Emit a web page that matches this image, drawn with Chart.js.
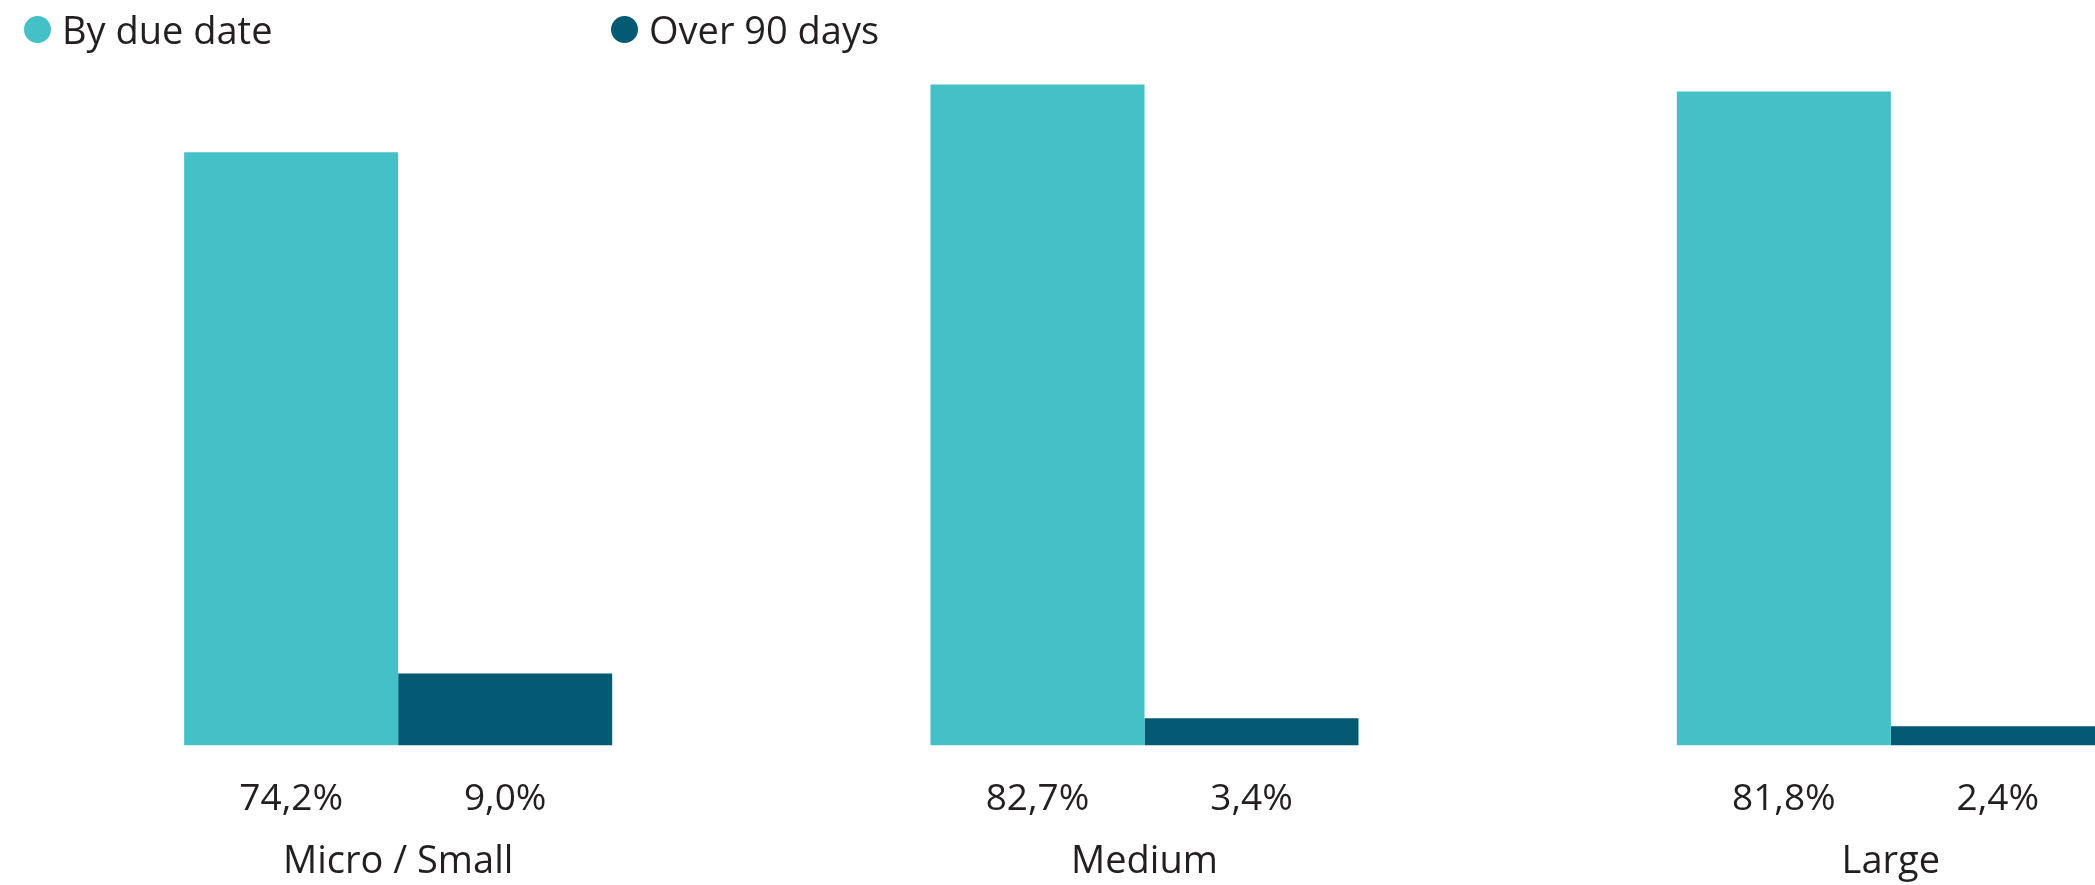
<!DOCTYPE html>
<html>
<head>
<meta charset="utf-8">
<script src="https://cdn.jsdelivr.net/npm/chart.js@4.4.1/dist/chart.umd.min.js"></script>
<style>
  html, body { margin: 0; padding: 0; background: #fff; overflow: hidden; }
  #wrap { position: relative; width: 2095px; height: 885px; overflow: hidden; }
  #chart { position: absolute; left: 0; top: 0; }
  .legend-item { position: absolute; top: 1px; height: 56px; display: flex; align-items: center;
    font-family: "Open Sans", sans-serif; font-size: 38px; color: #231f20; white-space: nowrap; }
  .legend-dot { width: 27px; height: 27px; border-radius: 50%; margin-right: 11px; }
</style>
</head>
<body>
<div id="wrap">
  <canvas id="chart" width="2270" height="979"></canvas>
</div>
<script>
var categories = ['Micro / Small', 'Medium', 'Large'];
var seriesNames = ['By due date', 'Over 90 days'];
var byDueDate = [74.2, 82.7, 81.8];
var over90Days = [9.0, 3.4, 2.4];
var seriesColors = ['#44c1c7', '#035a72'];
var legendLeft = [24, 611];

var TEXT_COLOR = '#231f20';
var FONT = '"Open Sans", sans-serif';

function fmtPct(v) {
    return v.toFixed(1).replace('.', ',') + '%';
}

// value labels under each bar, centred on the bar
var valueLabels = {
    id: 'valueLabels',
    afterDatasetsDraw: function(chart) {
        var ctx = chart.ctx;
        var area = chart.chartArea;
        ctx.save();
        ctx.font = '37px ' + FONT;
        ctx.fillStyle = TEXT_COLOR;
        ctx.textAlign = 'center';
        ctx.textBaseline = 'alphabetic';
        chart.data.datasets.forEach(function(ds, di) {
            chart.getDatasetMeta(di).data.forEach(function(bar, i) {
                ctx.fillText(fmtPct(ds.data[i]), bar.x, area.bottom + 65);
            });
        });
        ctx.restore();
    }
};

var ctx = document.getElementById('chart').getContext('2d');
var chart = new Chart(ctx, {
    type: 'bar',
    data: {
        labels: categories,
        datasets: [
            { label: seriesNames[0], data: byDueDate, backgroundColor: seriesColors[0] },
            { label: seriesNames[1], data: over90Days, backgroundColor: seriesColors[1] }
        ]
    },
    options: {
        responsive: false,
        animation: false,
        categoryPercentage: 0.5735,
        barPercentage: 1,
        layout: { padding: { top: 66, left: 25, right: 6, bottom: 0 } },
        plugins: {
            legend: { display: false },
            tooltip: { enabled: false }
        },
        scales: {
            x: {
                grid: { display: false, drawTicks: false },
                border: { display: false },
                ticks: {
                    color: TEXT_COLOR,
                    font: { family: FONT, size: 38 },
                    padding: 94
                }
            },
            y: {
                display: false,
                min: 0,
                max: 85
            }
        }
    },
    plugins: [valueLabels]
});

// legend built from the dataset labels and colours
var wrap = document.getElementById('wrap');
chart.data.datasets.forEach(function(ds, i) {
    var item = document.createElement('div');
    item.className = 'legend-item';
    item.style.left = legendLeft[i] + 'px';
    var dot = document.createElement('span');
    dot.className = 'legend-dot';
    dot.style.background = ds.backgroundColor;
    item.appendChild(dot);
    item.appendChild(document.createTextNode(ds.label));
    wrap.appendChild(item);
});
</script>
</body>
</html>
